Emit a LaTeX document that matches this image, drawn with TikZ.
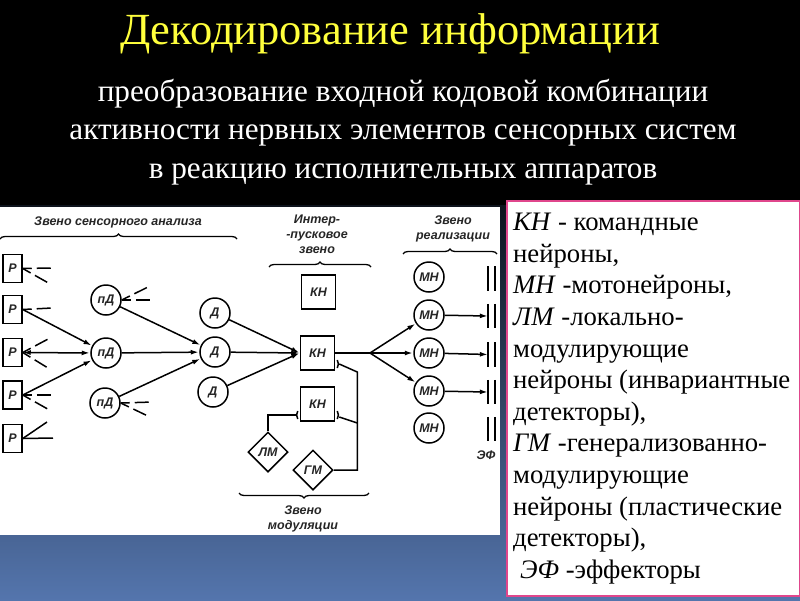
\documentclass[tikz,border=0pt]{standalone}
\usepackage{fontspec}
\setmainfont{Liberation Serif}
\newfontfamily\schemefont{Liberation Sans}
\usetikzlibrary{calc,shapes.geometric,decorations.pathreplacing,arrows.meta}
\definecolor{bgblue}{HTML}{5475AD}
\definecolor{framepink}{HTML}{E0468C}
\definecolor{titleyellow}{HTML}{FFFF3C}

\begin{document}
\begin{tikzpicture}[>={Latex[length=8pt,width=5pt]},x=1pt,y=-1pt]
	\tikzstyle{every node}=[inner sep=0pt]
	\tikzstyle{caption}=[font=\schemefont\itshape\bfseries\fontsize{12.5}{15}\selectfont,align=center,text=black!85]
	\tikzstyle{recbox}=[draw,line width=1.5pt,minimum width=19pt,minimum height=28pt,caption]
	\tikzstyle{cmdbox}=[draw,line width=1.5pt,minimum width=34pt,minimum height=34pt,caption]
	\tikzstyle{cell}=[draw,line width=1.5pt,circle,minimum size=30pt,caption]
	\tikzstyle{modcell}=[draw,line width=1.5pt,diamond,minimum size=40pt,caption]
	\tikzstyle{link}=[line width=1.5pt,->,shorten >=0.5pt]
	\tikzstyle{wire}=[line width=1.5pt]
	\tikzstyle{stub}=[line width=1.5pt,dash pattern=on 9pt off 5pt on 14pt off 60pt]
	\tikzstyle{bracket}=[line width=1.3pt,decorate,decoration={brace,amplitude=5pt}]
	\tikzstyle{headline}=[text=white,font=\fontsize{31.2}{38.5}\selectfont,align=center]

	\useasboundingbox (0,0) rectangle (800,600);
	\shade [top color=black,bottom color=bgblue] (0,130) rectangle (800,600);
	\fill [black] (0,0) rectangle (800,205);
	\fill [white] (0,207) rectangle (500,535);

	\node (title) [text=titleyellow,font=\fontsize{44.5}{48}\selectfont] at (390,34) {Декодирование информации};
	\node (subtitle) [headline] at (403,132) {преобразование входной кодовой комбинации\\активности нервных элементов сенсорных систем\\в реакцию исполнительных аппаратов};

	\node (legend) [draw=framepink,line width=2pt,fill=white,anchor=north west,minimum width=293pt,minimum height=395pt] at (506,200) {};
	\node (legendtext) [anchor=north west,align=left,font=\fontsize{26.7}{31.6}\selectfont] at (513,213) {\textit{КН} - командные\\нейроны,\\\textit{МН} -мотонейроны,\\\textit{ЛМ} -локально-\\модулирующие\\нейроны (инвариантные\\детекторы),\\\textit{ГМ} -генерализованно-\\модулирующие\\нейроны (пластические\\детекторы),\\\hspace*{7pt}\textit{ЭФ} -эффекторы};

	\node (R1) [recbox] at (12.5,268.5) {Р};
	\node (R2) [recbox] at (12.5,309.5) {Р};
	\node (R3) [recbox] at (12.5,352.5) {Р};
	\node (R4) [recbox] at (12.5,395) {Р};
	\node (R5) [recbox] at (12.5,438.5) {Р};

	\node (PD1) [cell] at (106,300) {пД};
	\node (PD2) [cell] at (106,353) {пД};
	\node (PD3) [cell] at (105,403) {пД};

	\node (D1) [cell] at (215,313) {Д};
	\node (D2) [cell] at (215,352) {Д};
	\node (D3) [cell] at (213,392) {Д};

	\node (KN1) [cmdbox] at (318.5,292) {КН};
	\node (KN2) [cmdbox] at (317.5,353) {КН};
	\node (KN3) [cmdbox] at (317.5,404) {КН};

	\node (LM) [modcell] at (268,452) {ЛМ};
	\node (GM) [modcell] at (313,470) {ГМ};

	\foreach \i/\ypos in {1/277,2/315,3/353,4/391,5/428}
		\node (MN\i) [cell] at (429,\ypos) {МН};
	\foreach \i/\ypos in {1/278.5,2/316,3/354.5,4/392,5/429}
	{
		\node (E\i) [minimum width=6pt,minimum height=24pt] at (491.5,\ypos) {};
		\draw [line width=1.8pt] (E\i.north west) -- (E\i.south west);
		\draw [line width=1.8pt] (E\i.north east) -- (E\i.south east);
	}
	\node (EF) [caption] at (486,455) {ЭФ};

	\draw [link] (R2.east) -- (PD2);
	\draw [link,<->] (R3) -- (PD2);
	\draw [link] (R4.east) -- (PD2);
	\draw [link] (PD1) -- (D2);
	\draw [link] (PD2) -- (D2);
	\draw [link] (PD3) -- (D2);
	\draw [link] (D1) -- (KN2.west);
	\draw [link] (D2) -- (KN2.west);
	\draw [link] (D3) -- (KN2.west);

	\coordinate (split) at (370,353);
	\draw [wire] (KN2) -- (split);
	\draw [link] (split) -- (MN2);
	\draw [link] (split) -- (MN3);
	\draw [link] (split) -- (MN4);
	\draw [link] (MN2) -- (E2.west);
	\draw [link] (MN3) -- (E3.west);
	\draw [link] (MN4) -- (E4.west);

	\draw [wire] (LM.north) |- ($(KN3.west)+(-4,11)$);
	\draw [wire] ($(KN3.west)+(-2,7)$) to [bend right=30] ($(KN3.west)+(-2,15)$);
	\draw [wire] (GM.east) -| ($(KN2.east)+(22,19)$) -- ($(KN2.east)+(4,11)$);
	\draw [wire] ($(KN2.east)+(2,7)$) to [bend left=30] ($(KN2.east)+(2,15)$);
	\draw [wire] ($(KN3.east)+(22,19)$) -- ($(KN3.east)+(4,13)$);
	\draw [wire] ($(KN3.east)+(2,7)$) to [bend left=30] ($(KN3.east)+(2,15)$);

	\coordinate (R1a) at (52,268);
	\coordinate (R1b) at (52,285);
	\coordinate (R2a) at (52,308);
	\coordinate (R3a) at (50,338);
	\coordinate (R3b) at (48,368);
	\coordinate (R4a) at (55,395);
	\coordinate (R4b) at (53,412);
	\coordinate (R5a) at (47,422);
	\coordinate (R5b) at (53,438);
	\coordinate (PD1a) at (148,287);
	\coordinate (PD1b) at (157,300);
	\coordinate (PD3a) at (153,402);
	\coordinate (PD3b) at (152,418);

	\draw [stub] (R1.east) -- (R1a);
	\draw [stub] (R1.east) -- (R1b);
	\draw [stub] (R2.east) -- (R2a);
	\draw [stub] (R3.east) -- (R3a);
	\draw [stub] (R3.east) -- (R3b);
	\draw [stub] (R4.east) -- (R4a);
	\draw [stub] (R4.east) -- (R4b);
	\draw [wire] (R5.east) -- (R5a);
	\draw [wire] (R5.east) -- (R5b);
	\draw [stub] (PD1.east) -- (PD1a);
	\draw [stub] (PD1.east) -- (PD1b);
	\draw [stub] (PD3.east) -- (PD3a);
	\draw [stub] (PD3.east) -- (PD3b);

	\draw [bracket] (0,239) -- (237,239);
	\draw [bracket] (269,267) -- (371,267);
	\draw [bracket] (403,254) -- (497,254);
	\draw [bracket,decoration={mirror}] (239,493) -- (369,493);

	\node (sensorlink) [caption] at (118,222) {Звено сенсорного анализа};
	\node (triggerlink) [caption] at (317,234) {Интер-\\-пусковое\\звено};
	\node (outputlink) [caption] at (453,229) {Звено\\реализации};
	\node (modlink) [caption] at (303,519) {Звено\\модуляции};
\end{tikzpicture}
\end{document}
